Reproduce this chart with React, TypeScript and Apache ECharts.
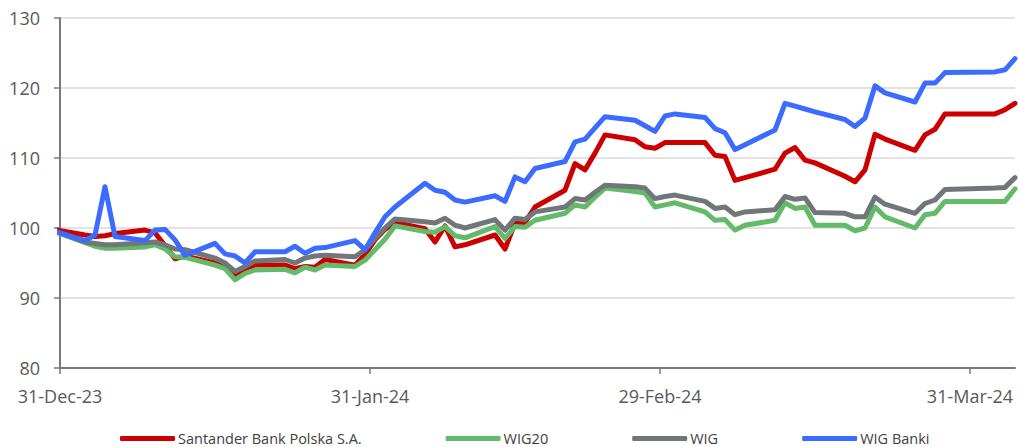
import React, { useEffect, useRef } from "react";
import * as echarts from "echarts";

// Trading dates (last point of 2023 is the base)
const dates: string[] = [
  "2023-12-29",
  "2024-01-02", "2024-01-03", "2024-01-04", "2024-01-05",
  "2024-01-08", "2024-01-09", "2024-01-10", "2024-01-11", "2024-01-12",
  "2024-01-15", "2024-01-16", "2024-01-17", "2024-01-18", "2024-01-19",
  "2024-01-22", "2024-01-23", "2024-01-24", "2024-01-25", "2024-01-26",
  "2024-01-29", "2024-01-30", "2024-01-31", "2024-02-01", "2024-02-02",
  "2024-02-05", "2024-02-06", "2024-02-07", "2024-02-08", "2024-02-09",
  "2024-02-12", "2024-02-13", "2024-02-14", "2024-02-15", "2024-02-16",
  "2024-02-19", "2024-02-20", "2024-02-21", "2024-02-22", "2024-02-23",
  "2024-02-26", "2024-02-27", "2024-02-28", "2024-02-29", "2024-03-01",
  "2024-03-04", "2024-03-05", "2024-03-06", "2024-03-07", "2024-03-08",
  "2024-03-11", "2024-03-12", "2024-03-13", "2024-03-14", "2024-03-15",
  "2024-03-18", "2024-03-19", "2024-03-20", "2024-03-21", "2024-03-22",
  "2024-03-25", "2024-03-26", "2024-03-27", "2024-03-28",
  "2024-04-02", "2024-04-03", "2024-04-04",
];

const santander: number[] = [
  100,
  99.0, 98.8, 98.9, 99.2,
  99.7, 99.3, 97.5, 95.6, 96.0,
  95.0, 94.6, 93.3, 94.2, 94.7,
  94.7, 94.2, 94.5, 94.4, 95.5,
  94.7, 96.2, 98.3, 99.8, 100.8,
  99.9, 98.0, 100.3, 97.3, 97.6,
  99.0, 97.0, 100.7, 100.8, 103.0,
  105.4, 109.2, 108.3, 110.7, 113.3,
  112.6, 111.6, 111.4, 112.2, 112.2,
  112.2, 110.4, 110.2, 106.8, 107.2,
  108.4, 110.7, 111.5, 109.7, 109.3,
  107.4, 106.6, 108.3, 113.4, 112.7,
  111.1, 113.3, 114.1, 116.3,
  116.3, 116.9, 117.8,
];

const wig20: number[] = [
  100,
  97.9, 97.4, 97.1, 97.1,
  97.3, 97.6, 97.0, 95.9, 95.8,
  94.7, 94.2, 92.6, 93.5, 94.0,
  94.1, 93.6, 94.4, 94.0, 94.7,
  94.5, 95.4, 96.9, 98.4, 100.3,
  99.5, 99.4, 100.2, 98.9, 98.6,
  100.2, 98.5, 100.2, 100.1, 101.1,
  102.1, 103.3, 103.0, 104.4, 105.7,
  105.2, 105.0, 103.0, 103.3, 103.6,
  102.3, 101.1, 101.2, 99.7, 100.4,
  101.1, 103.6, 102.8, 103.0, 100.4,
  100.4, 99.6, 100.0, 103.0, 101.6,
  100.0, 101.9, 102.1, 103.8,
  103.8, 103.8, 105.6,
];

const wig: number[] = [
  100,
  98.0, 97.8, 97.6, 97.6,
  97.9, 98.0, 97.6, 97.0, 96.9,
  95.7, 95.0, 93.8, 94.5, 95.3,
  95.5, 95.0, 95.7, 96.0, 96.1,
  95.9, 96.9, 98.5, 100.0, 101.3,
  100.9, 100.7, 101.4, 100.4, 100.0,
  101.2, 99.7, 101.4, 101.2, 102.3,
  103.0, 104.2, 104.0, 105.1, 106.1,
  105.9, 105.7, 104.2, 104.5, 104.7,
  103.8, 102.8, 103.0, 101.9, 102.3,
  102.6, 104.5, 104.1, 104.3, 102.2,
  102.1, 101.6, 101.6, 104.4, 103.4,
  102.1, 103.5, 104.0, 105.5,
  105.7, 105.8, 107.2,
];

const wigBanki: number[] = [
  100,
  98.2, 99.0, 105.9, 98.8,
  98.2, 99.7, 99.8, 98.3, 96.1,
  97.8, 96.3, 96.0, 95.0, 96.6,
  96.6, 97.4, 96.4, 97.1, 97.2,
  98.2, 96.9, 99.3, 101.6, 103.0,
  106.4, 105.4, 105.1, 104.0, 103.7,
  104.6, 103.8, 107.3, 106.6, 108.5,
  109.5, 112.3, 112.7, 114.3, 115.9,
  115.4, 114.6, 113.8, 116.0, 116.3,
  115.8, 114.2, 113.6, 111.2, 111.9,
  114.0, 117.8, 117.4, 117.0, 116.6,
  115.5, 114.5, 115.7, 120.3, 119.3,
  118.0, 120.7, 120.7, 122.2,
  122.3, 122.6, 124.2,
];

const tickDates: string[] = ["2023-12-31", "2024-01-31", "2024-02-29", "2024-03-31"];
const tickLabels: string[] = ["31-Dec-23", "31-Jan-24", "29-Feb-24", "31-Mar-24"];
const seriesNames: string[] = ["Santander Bank Polska S.A.", "WIG20", "WIG", "WIG Banki"];
const seriesColors: string[] = ["#cc0000", "#63bb6a", "#717778", "#3b6cff"];

const ORIGIN = Date.parse("2023-12-31T00:00:00Z");
const DAY = 86400000;
// each trading day is centred on its calendar day (noon)
const dayPos = (s: string) => (Date.parse(s + "T12:00:00Z") - ORIGIN) / DAY;
const tickPos = (s: string) => (Date.parse(s + "T00:00:00Z") - ORIGIN) / DAY;

export default function App() {
  const ref = useRef<HTMLDivElement>(null);

  useEffect(() => {
    document.body.style.margin = "0";
    if (!ref.current) return;
    const chart = echarts.init(ref.current, undefined, { renderer: "svg" });
    const xs = dates.map(dayPos);
    const ticks = tickDates.map(tickPos);
    const values = [santander, wig20, wig, wigBanki];
    const font = "'Open Sans', 'Noto Sans', sans-serif";

    chart.setOption({
      animation: false,
      backgroundColor: "#ffffff",
      grid: { left: 60, right: 4, top: 18, bottom: 79, containLabel: false },
      legend: {
        data: seriesNames,
        left: 120,
        top: 431,
        padding: 0,
        icon: "roundRect",
        itemWidth: 55,
        itemHeight: 5,
        itemGap: 84,
        textStyle: { fontFamily: font, fontSize: 14.5, color: "#404040", padding: [0, 0, 0, -2] },
      },
      xAxis: {
        type: "value",
        min: 0,
        max: 95.5,
        splitLine: { show: false },
        axisLine: { show: true, onZero: false, lineStyle: { color: "#7a7a7a", width: 2 } },
        axisTick: {
          show: true,
          customValues: ticks,
          length: 6,
          lineStyle: { color: "#7a7a7a", width: 1.5 },
        },
        axisLabel: {
          customValues: ticks,
          margin: 19,
          fontFamily: font,
          fontSize: 18,
          color: "#595959",
          formatter: (v: number) => {
            let best = 0;
            ticks.forEach((t, i) => {
              if (Math.abs(t - v) < Math.abs(ticks[best] - v)) best = i;
            });
            return tickLabels[best];
          },
        },
      },
      yAxis: {
        type: "value",
        min: 80,
        max: 130,
        interval: 10,
        axisLine: { show: true, lineStyle: { color: "#7a7a7a", width: 2 } },
        axisTick: { show: true, length: 6, lineStyle: { color: "#7a7a7a", width: 1.5 } },
        axisLabel: { margin: 20, fontFamily: font, fontSize: 18, color: "#595959" },
        splitLine: { show: true, lineStyle: { color: "#d9d9d9", width: 1.5 } },
      },
      series: seriesNames.map((name, i) => ({
        name,
        type: "line",
        data: xs.map((x, j) => [x, values[i][j]]),
        showSymbol: false,
        symbol: "none",
        clip: true,
        color: seriesColors[i],
        lineStyle: { color: seriesColors[i], width: 5, cap: "round", join: "round" },
        z: 2 + i,
      })),
    });

    return () => chart.dispose();
  }, []);

  return <div ref={ref} style={{ width: 1019, height: 447 }} />;
}
